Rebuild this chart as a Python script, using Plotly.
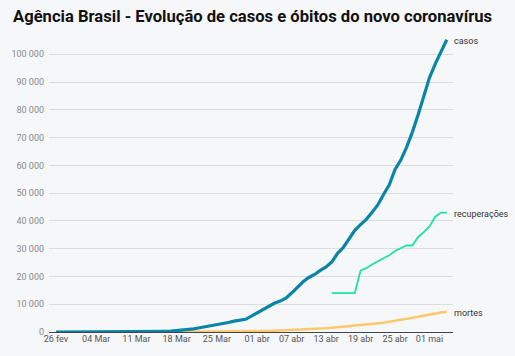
import datetime as dt
import plotly.graph_objects as go

start = dt.date(2020, 2, 26)

casos = [1, 1, 1, 2, 2, 2, 2, 3, 8, 13, 19, 25, 25, 34, 52, 77, 98, 121, 200, 234,
         291, 428, 621, 904, 1128, 1546, 1891, 2201, 2433, 2915, 3417, 3904, 4256, 4579, 5717,
         6836, 8044, 9056, 10360, 11130, 12161, 14034, 16170, 18092, 19638, 20727, 22169, 23430,
         25262, 28320, 30425, 33682, 36599, 38654, 40581, 43079, 45757, 49492, 52995, 58509,
         61888, 66501, 71886, 78162, 85380, 91589, 96559, 101147, 105222]
dates_casos = [start + dt.timedelta(days=i) for i in range(len(casos))]

mortes_start = dt.date(2020, 3, 17)
mortes = [1, 4, 7, 11, 18, 25, 34, 46, 57, 77, 92, 111, 136, 159, 201,
          240, 324, 359, 445, 486, 553, 667, 800, 941, 1056, 1124, 1223, 1328, 1532, 1736,
          1924, 2141, 2347, 2462, 2587, 2741, 2906, 3331, 3704, 4057, 4205, 4543, 5017, 5466,
          5901, 6329, 6750, 7025, 7288]
dates_mortes = [mortes_start + dt.timedelta(days=i) for i in range(len(mortes))]

recup_start = dt.date(2020, 4, 14)
recuperacoes = [14026, 14026, 14026, 14026, 14026, 22130, 22991, 24325, 25318, 26573,
                27655, 29160, 30152, 31142, 31142, 34132, 35935, 38039, 41500, 42991, 42991]
dates_recup = [recup_start + dt.timedelta(days=i) for i in range(len(recuperacoes))]

tick_dates = ["2020-02-26", "2020-03-04", "2020-03-11", "2020-03-18", "2020-03-25",
              "2020-04-01", "2020-04-07", "2020-04-13", "2020-04-19", "2020-04-25", "2020-05-01"]
tick_labels = ["26 fev", "04 Mar", "11 Mar", "18 Mar", "25 Mar",
               "01 abr", "07 abr", "13 abr", "19 abr", "25 abr", "01 mai"]
y_ticks = [0, 10000, 20000, 30000, 40000, 50000, 60000, 70000, 80000, 90000, 100000]

C_CASOS = "#0a85a8"
C_RECUP = "#1fe0a6"
C_MORTES = "#ffc86e"
BG = "#f6f7f9"

fig = go.Figure()
fig.add_trace(go.Scatter(x=dates_mortes, y=mortes, mode="lines", name="mortes",
                         line=dict(color=C_MORTES, width=2.6)))
fig.add_trace(go.Scatter(x=dates_recup, y=recuperacoes, mode="lines", name="recuperações",
                         line=dict(color=C_RECUP, width=1.8)))
fig.add_trace(go.Scatter(x=dates_casos, y=casos, mode="lines", name="casos",
                         line=dict(color=C_CASOS, width=3.2)))

for name, xs, ys in [("casos", dates_casos, casos),
                     ("recuperações", dates_recup, recuperacoes),
                     ("mortes", dates_mortes, mortes)]:
    fig.add_annotation(x=xs[-1], y=ys[-1], text=name, showarrow=False,
                       xanchor="left", yanchor="middle", xshift=5, yshift=-1,
                       font=dict(family="Roboto", size=9, color="#333333"))

x0 = dt.datetime(2020, 2, 26) - dt.timedelta(hours=29)
x1 = dt.datetime(2020, 5, 4) + dt.timedelta(hours=26)

fig.update_layout(
    width=515, height=356,
    margin=dict(l=49, r=62, t=39, b=24),
    paper_bgcolor=BG, plot_bgcolor=BG,
    showlegend=False,
    separators=", ",
    title=dict(text="<b>Agência Brasil - Evolução de casos e óbitos do novo coronavírus</b>",
               x=13 / 515, xanchor="left", y=1 - 16 / 356, yanchor="middle",
               font=dict(family="Roboto", size=16.6, color="#111111")),
    xaxis=dict(type="date", range=[x0, x1], tickvals=tick_dates, ticktext=tick_labels,
               showgrid=False, zeroline=False, showline=False, ticks="",
               tickfont=dict(family="Roboto", size=9, color="#555555")),
    yaxis=dict(range=[0, 105500], tickvals=y_ticks, tickformat=",d",
               showgrid=True, gridcolor="#dcdcdc", gridwidth=1,
               zeroline=True, zerolinecolor="#444444", zerolinewidth=1,
               showline=False, ticks="", ticklabelstandoff=4,
               tickfont=dict(family="Roboto", size=9, color="#8a8a8a")),
)

fig.write_html("out.html",
               config={"displayModeBar": False},
               post_script="document.body.style.margin='0';"
                           "document.body.style.background='" + BG + "';")
